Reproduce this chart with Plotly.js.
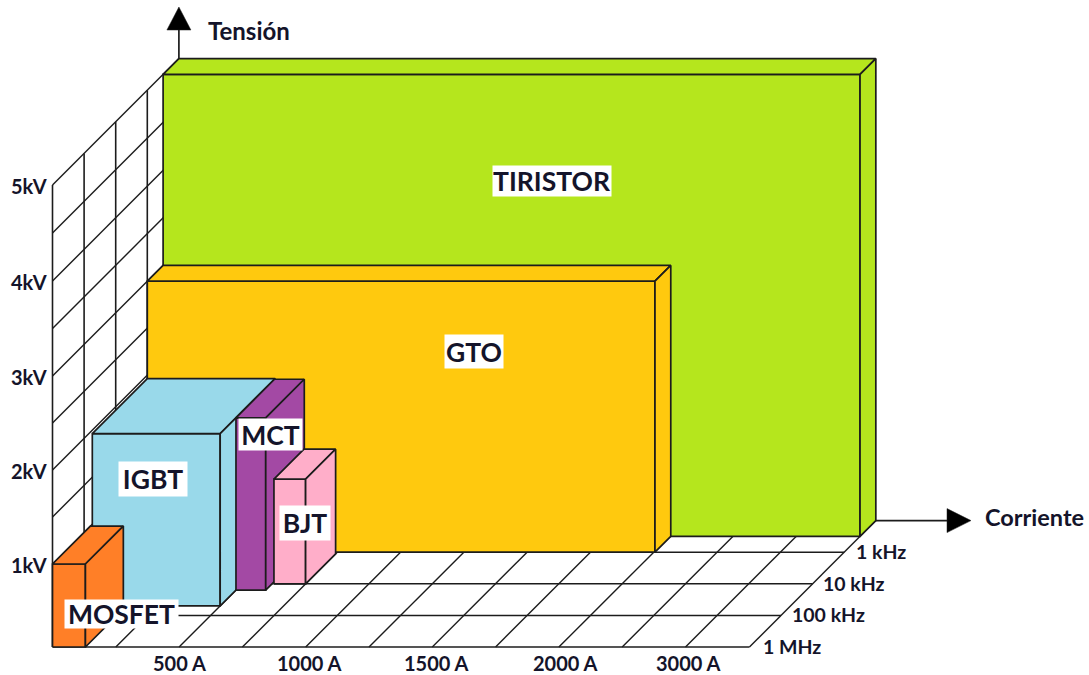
<!DOCTYPE html>
<html>
<head>
<meta charset="utf-8">
<script src="https://cdn.plot.ly/plotly-3.0.1.min.js"></script>
<style>html,body{margin:0;padding:0;background:#fff}#chart{width:1089px;height:675px}</style>
</head>
<body>
<div id="chart"></div>
<script>
// ---- data ----
var devices        = ['TIRISTOR', 'GTO', 'IGBT', 'MCT', 'BJT', 'MOSFET'];
// current extent, in grid steps of 250 A along the front edge
var currentStart   = [0, 0, -0.02, 2, 2.5, 0];
var currentEnd     = [11.01, 8.02, 2, 2.47, 3, 0.52];
// voltage reached, in kV
var voltageTop     = [5, 3, 1.95, 1.95, 1.23, 1];
// frequency depth: 0 = 1 MHz, 1 = 100 kHz, 2 = 10 kHz, 3 = 1 kHz
var depthFront     = [3.5, 3, 1.3, 1.8, 2, 0];
var depthBack      = [4, 3.5, 3.04, 3.02, 2.95, 1.2];
var deviceColors   = ['#B5E61D', '#FFC90E', '#99D9EA', '#A349A4', '#FFAEC9', '#FF7F27'];

var voltageTicks   = ['1kV', '2kV', '3kV', '4kV', '5kV'];
var voltageValues  = [1, 2, 3, 4, 5];
var wallLevels     = [1, 1.5, 2, 2.5, 3, 3.5, 4, 4.5, 5];
var wallDepths     = [0, 1, 2, 3];
var currentTicks   = ['500 A', '1000 A', '1500 A', '2000 A', '3000 A'];
var currentTickPos = [2, 4.06, 6.06, 8.1, 10.05];
var gridSteps      = [1, 2, 3, 4, 5, 6, 7, 8, 9, 10];
var freqTicks      = ['1 MHz', '100 kHz', '10 kHz', '1 kHz'];
var freqDepths     = [0, 1, 2, 3];

// ---- oblique projection of (current, voltage, depth) onto the plot plane ----
var voltageScale = [0, 83, 177, 271, 366, 462];
function vh(k) {
  var i = Math.min(Math.floor(k), 4);
  return voltageScale[i] + (voltageScale[i + 1] - voltageScale[i]) * (k - i);
}
var DEPTH = 31.6, STEP = 63.3, X0 = 52.5, Y0 = 647, END = 11.01;
function P(g, k, d) { return [X0 + STEP * g + DEPTH * d, Y0 - vh(k) - DEPTH * d]; }

var traces = [];
var INK = '#1c1c1c';
function poly(pts, fill, width) {
  var t = {
    x: pts.map(function (p) { return p[0]; }),
    y: pts.map(function (p) { return p[1]; }),
    mode: 'lines', hoverinfo: 'skip', showlegend: false,
    line: { color: INK, width: width || 1.7 }
  };
  if (fill) { t.fill = 'toself'; t.fillcolor = fill; }
  traces.push(t);
}

// left wall
wallDepths.forEach(function (d) { poly([P(0, 0, d), P(0, 5, d)], null, 1.6); });
wallLevels.forEach(function (k) { poly([P(0, k, 0), P(0, k, 4)], null, 1.4); });

// floor
freqDepths.forEach(function (d) { poly([P(0, 0, d), P(END, 0, d)], null, 1.5); });
gridSteps.forEach(function (g) { poly([P(g, 0, 0), P(g, 0, 3.5)], null, 1.4); });
poly([P(END, 0, 0), P(END, 0, 4)], null, 1.4);

// devices, back to front
devices.forEach(function (n, i) {
  var a = currentStart[i], b = currentEnd[i], v = voltageTop[i], f = depthFront[i], r = depthBack[i], c = deviceColors[i];
  poly([P(a, 0, f), P(b, 0, f), P(b, v, f), P(a, v, f), P(a, 0, f)], c);
  poly([P(a, v, f), P(b, v, f), P(b, v, r), P(a, v, r), P(a, v, f)], c);
  poly([P(b, 0, f), P(b, 0, r), P(b, v, r), P(b, v, f), P(b, 0, f)], c);
});

// axis arrows
var topBack = P(0, 5, 4), floorBack = P(END, 0, 4);
poly([topBack, [topBack[0], 30]], null, 1.7);
poly([[topBack[0] - 12, 30], [topBack[0] + 12, 30], [topBack[0], 7], [topBack[0] - 12, 30]], '#000', 0.5);
poly([floorBack, [947, floorBack[1]]], null, 1.7);
poly([[947, floorBack[1] - 12], [947, floorBack[1] + 12], [971, floorBack[1]], [947, floorBack[1] - 12]], '#000', 0.5);

// text
var FONT = 'Lato, "Noto Sans", sans-serif';
var TEXT = '#14142a';
function note(text, x, y, size, extra) {
  var a = {
    text: text, x: x, y: y, xref: 'x', yref: 'y', showarrow: false,
    xanchor: 'center', yanchor: 'middle',
    font: { family: FONT, size: size, color: TEXT, weight: 700 }
  };
  for (var key in extra) { a[key] = extra[key]; }
  return a;
}
var annotations = [];
voltageTicks.forEach(function (t, i) {
  annotations.push(note(t, 28.5, P(0, voltageValues[i], 0)[1] + 1, 20));
});
currentTicks.forEach(function (t, i) {
  annotations.push(note(t, P(currentTickPos[i], 0, 0)[0], 663, 20));
});
var freqLabelGap = [12, 9, 8, 10];
freqTicks.forEach(function (t, i) {
  var p = P(END, 0, freqDepths[i]);
  annotations.push(note(t, p[0] + freqLabelGap[i], p[1] - 0.5, 19.5, { xanchor: 'left' }));
});
annotations.push(note('Tensión', 249, 30, 24));
annotations.push(note('Corriente', 1034.5, 517, 23.5));

var labelBoxes = [
  [552, 181, 118, 30],
  [474, 351, 58, 33],
  [153, 479, 68, 34],
  [270, 434, 63, 31],
  [305, 523, 50, 34],
  [121, 614, 113, 28]
];
devices.forEach(function (n, i) {
  var b = labelBoxes[i];
  annotations.push(note(n, b[0], b[1], 26.5, { bgcolor: '#fff', width: b[2], height: b[3], borderpad: 0, align: 'center', valign: 'middle' }));
});

Plotly.newPlot('chart', traces, {
  width: 1089, height: 675,
  margin: { l: 0, r: 0, t: 0, b: 0, pad: 0 },
  paper_bgcolor: '#fff', plot_bgcolor: '#fff',
  showlegend: false, hovermode: false,
  xaxis: { range: [0, 1089], visible: false, fixedrange: true },
  yaxis: { range: [675, 0], visible: false, fixedrange: true },
  annotations: annotations
}, { displayModeBar: false, staticPlot: true });
</script>
</body>
</html>
